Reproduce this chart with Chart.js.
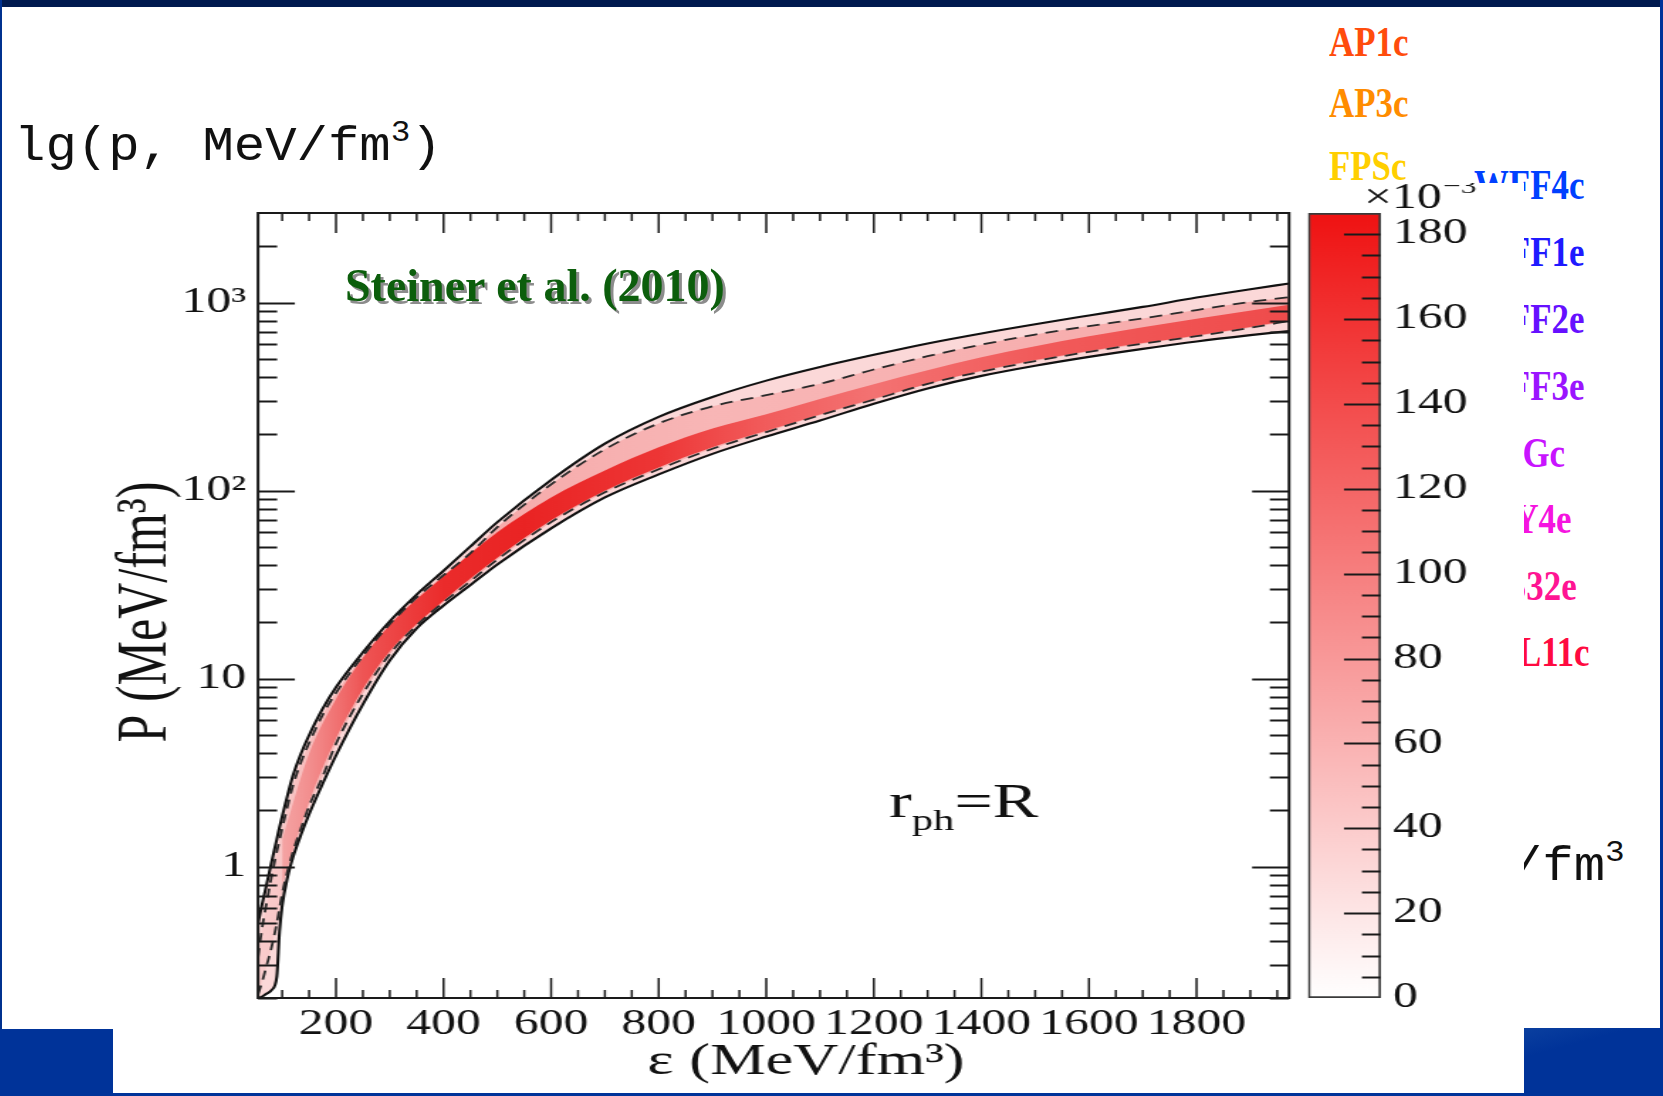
<!DOCTYPE html>
<html>
<head>
<meta charset="utf-8">
<script src="https://cdn.jsdelivr.net/npm/chart.js@4.4.1/dist/chart.umd.min.js"></script>
<style>
  html, body { margin: 0; padding: 0; }
  body { width: 1663px; height: 1096px; position: relative; overflow: hidden; background: #fff; }
  .blk { position: absolute; }
  .eos { position: absolute; font: bold 42px "Liberation Serif"; line-height: 42px; white-space: nowrap;
         transform: scaleX(0.83); transform-origin: 0 0; }
  .mono { position: absolute; font: 48px "Liberation Mono"; line-height: 48px; white-space: nowrap; color: #111; }
  .mono .sup { font-size: 30px; position: relative; top: -19px; }
  #panel { position: absolute; left: 113px; top: 183px; width: 1411px; height: 910px; background: #fff; z-index: 2; }
  .stretch { position: absolute; top: 0; transform: scaleX(1.42); transform-origin: 0 0; }
  #steiner { position: absolute; left: 345px; top: 263px; z-index: 3; font: bold 46px "Liberation Serif";
             line-height: 46px; color: #0c5e0c; text-shadow: 3px 3px 0 #8c8c8c; white-space: nowrap; }
</style>
</head>
<body>
<!-- slide frame -->
<div class="blk" style="left:0;top:0;width:1663px;height:7px;background:#001a4f;z-index:5"></div>
<div class="blk" style="left:0;top:0;width:2px;height:1096px;background:#00318f;z-index:5"></div>
<div class="blk" style="left:1660px;top:0;width:3px;height:1096px;background:#003399;z-index:5"></div>
<div class="blk" style="left:0;top:1093px;width:1663px;height:3px;background:#003399;z-index:5"></div>
<div class="blk" style="left:0;top:1029px;width:113px;height:67px;background:#003399;z-index:5"></div>
<div class="blk" style="left:1524px;top:1028px;width:139px;height:68px;background:linear-gradient(165deg,#0a3f9f 0%,#003399 28%);z-index:5"></div>

<!-- slide captions -->
<div class="mono" style="left:14px;top:123px;transform:scaleX(1.09);transform-origin:0 0">lg(p, MeV/fm<span class="sup">3</span>)</div>
<div class="mono" style="right:38px;top:843px;transform:scaleX(1.09);transform-origin:100% 0">lg(ε, MeV/fm<span class="sup">3</span></div>

<!-- equation-of-state names -->
<div class="eos" style="left:1329px;top:21px;color:#ff4c0c">AP1c</div>
<div class="eos" style="left:1329px;top:82px;color:#ff8c00">AP3c</div>
<div class="eos" style="left:1329px;top:145px;color:#ffcf00">FPSc</div>
<div class="eos" style="left:1474px;top:164px;color:#0040ff">WFF4c</div>
<div class="eos" style="left:1474px;top:231px;color:#1f1aff">WFF1e</div>
<div class="eos" style="left:1474px;top:298px;color:#6610ff">WFF2e</div>
<div class="eos" style="left:1474px;top:365px;color:#9b14ff">WFF3e</div>
<div class="eos" style="left:1474px;top:432px;color:#c814ff">ENGc</div>
<div class="eos" style="left:1474px;top:498px;color:#f514e0">SLY4e</div>
<div class="eos" style="left:1474px;top:565px;color:#ff1493">MS32e</div>
<div class="eos" style="left:1474px;top:631px;color:#ff0a40">PAL11c</div>

<!-- figure panel -->
<div id="panel">
  <div class="stretch" style="left:0"><canvas id="eos" width="994" height="910"></canvas></div>
  <div class="stretch" style="left:1187px"><canvas id="cbar" width="158" height="910"></canvas></div>
</div>
<div id="steiner">Steiner et al. (2010)</div>

<script>
// Energy density grid (MeV/fm^3) and pressure bounds (MeV/fm^3) of the allowed region
const energyDensity = [55, 62, 70, 80, 90, 95, 100, 110, 120, 135,
                       150, 175, 200, 250, 300, 350, 400, 450, 500, 600,
                       700, 800, 900, 1000, 1100, 1200, 1300, 1400, 1500, 1600,
                       1700, 1800, 1900, 1972];
const upperOuter = [0.5, 0.62, 0.78, 1.05, 1.4, 1.62, 1.85, 2.4, 3.05, 4.0,
                    5.0, 6.9, 9.0, 13.8, 20.2, 28.0, 37.5, 50.5, 68, 114,
                    178, 247, 315, 385, 455, 528, 607, 686, 768, 855,
                    950, 1065, 1180, 1265];
const upperInner = [0.33, 0.46, 0.62, 0.88, 1.2, 1.38, 1.6, 2.1, 2.7, 3.6,
                    4.55, 6.4, 8.4, 13.2, 19.5, 27.0, 35.5, 46.5, 64, 108,
                    166, 228, 281, 322, 370, 441, 519, 598, 677, 751,
                    825, 914, 1010, 1070];
const lowerInner = [0.21, 0.24, 0.29, 0.37, 0.5, 0.6, 0.72, 0.95, 1.2, 1.6,
                    2.1, 3.0, 4.5, 8.3, 13.5, 19.2, 25.5, 33, 43, 68,
                    98, 130, 167, 205, 252, 305, 370, 430, 489, 548,
                    605, 663, 735, 800];
const lowerOuter = [0.2, 0.203, 0.21, 0.22, 0.26, 0.45, 0.62, 0.88, 1.12, 1.48,
                    1.9, 2.75, 3.9, 7.3, 12.5, 18.5, 24.5, 31.5, 40.5, 63,
                    92, 122, 157, 194, 236, 290, 350, 408, 462, 515,
                    568, 622, 672, 707];

// Highest-probability ridge inside the band
const ridgeEnergy = [100, 150, 200, 250, 300, 400, 500, 600, 700, 800, 900, 1000, 1200, 1400, 1600, 1800, 1972];
const ridgeUpper  = [1.4, 4.0, 7.8, 12.9, 19.3, 35, 60, 92, 128, 170, 214, 255, 368, 512, 662, 822, 975];
const ridgeLower  = [0.8, 2.2, 4.8, 8.8, 14.0, 26.0, 44, 69.5, 100, 133, 170, 208, 308, 434, 553, 668, 805];

// Axis ticks
const xTickValues = [200, 400, 600, 800, 1000, 1200, 1400, 1600, 1800];
const xTickLabels = ['200', '400', '600', '800', '1000', '1200', '1400', '1600', '1800'];
const yTickValues = [1, 10, 100, 1000];
const yTickLabels = ['1', '10', '10²', '10³'];
const cbarTickValues = [0, 20, 40, 60, 80, 100, 120, 140, 160, 180];
const cbarTickLabels = ['0', '20', '40', '60', '80', '100', '120', '140', '160', '180'];
const cbarMax = 185;

const X_MIN = 55, X_MAX = 1972, Y_MIN = 0.2, Y_MAX = 3000;
const SERIF = '"Liberation Serif", "Times New Roman", serif';
const INK = '#1a1a1a';

const pts = (xs, ys) => xs.map((x, i) => ({ x, y: ys[i] }));

// colour ramps along the energy axis
const ridgeShade = [[55, 'rgba(243,160,160,0.55)'], [150, 'rgba(241,125,125,0.72)'], [250, 'rgba(237,70,70,0.86)'],
                    [400, 'rgba(234,34,34,0.93)'], [550, 'rgba(233,28,28,0.95)'], [800, 'rgba(236,40,40,0.9)'],
                    [1000, 'rgba(240,72,72,0.82)'], [1200, 'rgba(242,96,96,0.78)'], [1500, 'rgba(240,72,72,0.82)'],
                    [1972, 'rgba(238,60,60,0.86)']];
const innerShade = [[55, 'rgb(249,205,205)'], [300, 'rgb(245,165,165)'], [900, 'rgb(248,182,182)'], [1972, 'rgb(247,170,170)']];

function rampAlongX(stops, fallback) {
  return (ctx) => {
    const chart = ctx.chart;
    const area = chart.chartArea;
    if (!area) return fallback;
    const xs = chart.scales.x;
    const g = chart.ctx.createLinearGradient(area.left, 0, area.right, 0);
    const w = area.right - area.left;
    stops.forEach(([v, c]) => {
      const t = Math.min(1, Math.max(0, (xs.getPixelForValue(v) - area.left) / w));
      g.addColorStop(t, c);
    });
    return g;
  };
}

const fillSet = (data, color, order) => ({
  data, showLine: true, borderWidth: 0, pointRadius: 0, backgroundColor: color,
  fill: '+1', order, cubicInterpolationMode: 'monotone'
});
const edgeSet = (data, order) => ({
  data, showLine: true, borderWidth: 0, pointRadius: 0, fill: false, order, cubicInterpolationMode: 'monotone'
});
const lineSet = (data, dashed) => ({
  data, showLine: true, borderWidth: dashed ? 1.8 : 2.1, borderColor: dashed ? '#2a2a2a' : '#111',
  borderDash: dashed ? [9, 6] : [], pointRadius: 0, fill: false, order: 0, cubicInterpolationMode: 'monotone'
});

// frame, inward ticks and annotations of the main panel
const framePlugin = {
  id: 'frame',
  afterDatasetsDraw(chart) {
    const { ctx, chartArea: a, scales: { x, y } } = chart;
    ctx.save();
    ctx.strokeStyle = INK;
    ctx.lineCap = 'butt';
    // energy ticks every 50, majors every 200
    ctx.lineWidth = 1.5;
    for (let v = 100; v < X_MAX; v += 50) {
      const px = x.getPixelForValue(v);
      const len = v % 200 === 0 ? 20 : 8;
      ctx.beginPath();
      ctx.moveTo(px, a.bottom); ctx.lineTo(px, a.bottom - len);
      ctx.moveTo(px, a.top); ctx.lineTo(px, a.top + len);
      ctx.stroke();
    }
    // pressure ticks: decades and 2..9 subdivisions
    ctx.lineWidth = 2;
    for (let d = 0.1; d <= 1000; d *= 10) {
      for (let k = 1; k <= 9; k++) {
        const v = Math.round(k * d * 1000) / 1000;
        if (v < Y_MIN || v >= Y_MAX) continue;
        const py = Math.round(y.getPixelForValue(v)) + 0.5;
        const len = k === 1 ? 26 : 13.5;
        ctx.beginPath();
        ctx.moveTo(a.left, py); ctx.lineTo(a.left + len, py);
        ctx.moveTo(a.right, py); ctx.lineTo(a.right - len, py);
        ctx.stroke();
      }
    }
    ctx.lineWidth = 2;
    ctx.strokeRect(a.left, a.top, a.right - a.left, a.bottom - a.top);

    ctx.fillStyle = '#111';
    // axis titles
    ctx.font = '50px ' + SERIF;
    ctx.textAlign = 'center';
    ctx.textBaseline = 'middle';
    ctx.save();
    ctx.translate(24, 429);
    ctx.rotate(-Math.PI / 2);
    ctx.fillText('P (MeV/fm³)', 0, 0);
    ctx.restore();
    ctx.font = '44px ' + SERIF;
    ctx.fillText('ε (MeV/fm³)', 488, 879);
    // photospheric radius annotation
    ctx.textAlign = 'left';
    ctx.textBaseline = 'alphabetic';
    let cx = 546.5;
    ctx.font = '48px ' + SERIF;
    ctx.fillText('r', cx, 634); cx += ctx.measureText('r').width;
    ctx.font = '30px ' + SERIF;
    ctx.fillText('ph', cx, 647); cx += ctx.measureText('ph').width;
    ctx.font = '48px ' + SERIF;
    ctx.fillText('=R', cx, 634);
    ctx.restore();
  }
};

new Chart(document.getElementById('eos'), {
  type: 'scatter',
  data: {
    datasets: [
      fillSet(pts(energyDensity, upperOuter), 'rgb(251,216,216)', 4),
      edgeSet(pts(energyDensity, lowerOuter), 4),
      fillSet(pts(energyDensity, upperInner), rampAlongX(innerShade, 'rgb(246,175,175)'), 3),
      edgeSet(pts(energyDensity, lowerInner), 3),
      fillSet(pts(ridgeEnergy, ridgeUpper), rampAlongX(ridgeShade, 'rgba(236,40,40,0.9)'), 2),
      edgeSet(pts(ridgeEnergy, ridgeLower), 2),
      lineSet(pts(energyDensity, upperOuter), false),
      lineSet(pts(energyDensity, upperInner), true),
      lineSet(pts(energyDensity, lowerInner), true),
      lineSet(pts(energyDensity, lowerOuter), false)
    ]
  },
  options: {
    responsive: false, animation: false, devicePixelRatio: 1,
    layout: { padding: { left: 0, right: 165.8, top: 30, bottom: 0 } },
    plugins: { legend: { display: false }, tooltip: { enabled: false }, filler: { propagate: false } },
    scales: {
      x: {
        type: 'linear', min: X_MIN, max: X_MAX,
        grid: { display: false, drawTicks: false }, border: { display: false },
        afterBuildTicks: (s) => { s.ticks = xTickValues.map(v => ({ value: v })); },
        afterFit: (s) => { s.height = 95; },
        ticks: { callback: (v, i) => xTickLabels[i], autoSkip: false, maxRotation: 0, minRotation: 0,
                 padding: 6, color: '#111', font: { family: SERIF, size: 35 } }
      },
      y: {
        type: 'logarithmic', min: Y_MIN, max: Y_MAX,
        grid: { display: false, drawTicks: false }, border: { display: false },
        afterBuildTicks: (s) => { s.ticks = yTickValues.map(v => ({ value: v })); },
        afterFit: (s) => { s.width = 102.1; },
        ticks: { callback: (v, i) => yTickLabels[i], autoSkip: false, padding: 8.4,
                 color: '#111', font: { family: SERIF, size: 35 } }
      }
    }
  },
  plugins: [framePlugin]
});

// colour scale bar
const cbarPlugin = {
  id: 'cbarTicks',
  afterDatasetsDraw(chart) {
    const { ctx, chartArea: a, scales: { y } } = chart;
    ctx.save();
    ctx.strokeStyle = INK;
    ctx.lineWidth = 2;
    for (let v = 5; v < cbarMax; v += 5) {
      const py = Math.round(y.getPixelForValue(v)) + 0.5;
      const len = v % 20 === 0 ? 26 : 13.4;
      ctx.beginPath();
      ctx.moveTo(a.right, py); ctx.lineTo(a.right - len, py);
      ctx.stroke();
    }
    ctx.fillStyle = '#111';
    ctx.textAlign = 'left';
    ctx.textBaseline = 'middle';
    ctx.font = '35px ' + SERIF;
    ctx.fillText('×10', 45, 16);
    const w = ctx.measureText('×10').width;
    ctx.font = '22px ' + SERIF;
    ctx.fillText('−3', 45 + w + 1, 4);
    ctx.restore();
  }
};

new Chart(document.getElementById('cbar'), {
  type: 'bar',
  data: {
    labels: [''],
    datasets: [{
      data: [cbarMax],
      backgroundColor: (ctx) => {
        const chart = ctx.chart, area = chart.chartArea;
        if (!area) return 'rgb(245,120,120)';
        const g = chart.ctx.createLinearGradient(0, area.bottom, 0, area.top);
        g.addColorStop(0, 'rgb(255,255,255)');
        g.addColorStop(1, 'rgb(239,18,18)');
        return g;
      },
      borderColor: '#3a3a3a', borderWidth: 2, borderSkipped: false,
      barPercentage: 1, categoryPercentage: 1
    }]
  },
  options: {
    responsive: false, animation: false, devicePixelRatio: 1,
    layout: { padding: { left: 5.6, right: 0, top: 30, bottom: 95 } },
    plugins: { legend: { display: false }, tooltip: { enabled: false } },
    scales: {
      x: { display: false },
      y: {
        position: 'right', min: 0, max: cbarMax,
        grid: { display: false, drawTicks: false }, border: { display: false },
        afterBuildTicks: (s) => { s.ticks = cbarTickValues.map(v => ({ value: v })); },
        afterFit: (s) => { s.width = 101; },
        ticks: { callback: (v, i) => cbarTickLabels[i], autoSkip: false, padding: 8.5,
                 color: '#111', font: { family: SERIF, size: 35 } }
      }
    }
  },
  plugins: [cbarPlugin]
});
</script>
</body>
</html>
